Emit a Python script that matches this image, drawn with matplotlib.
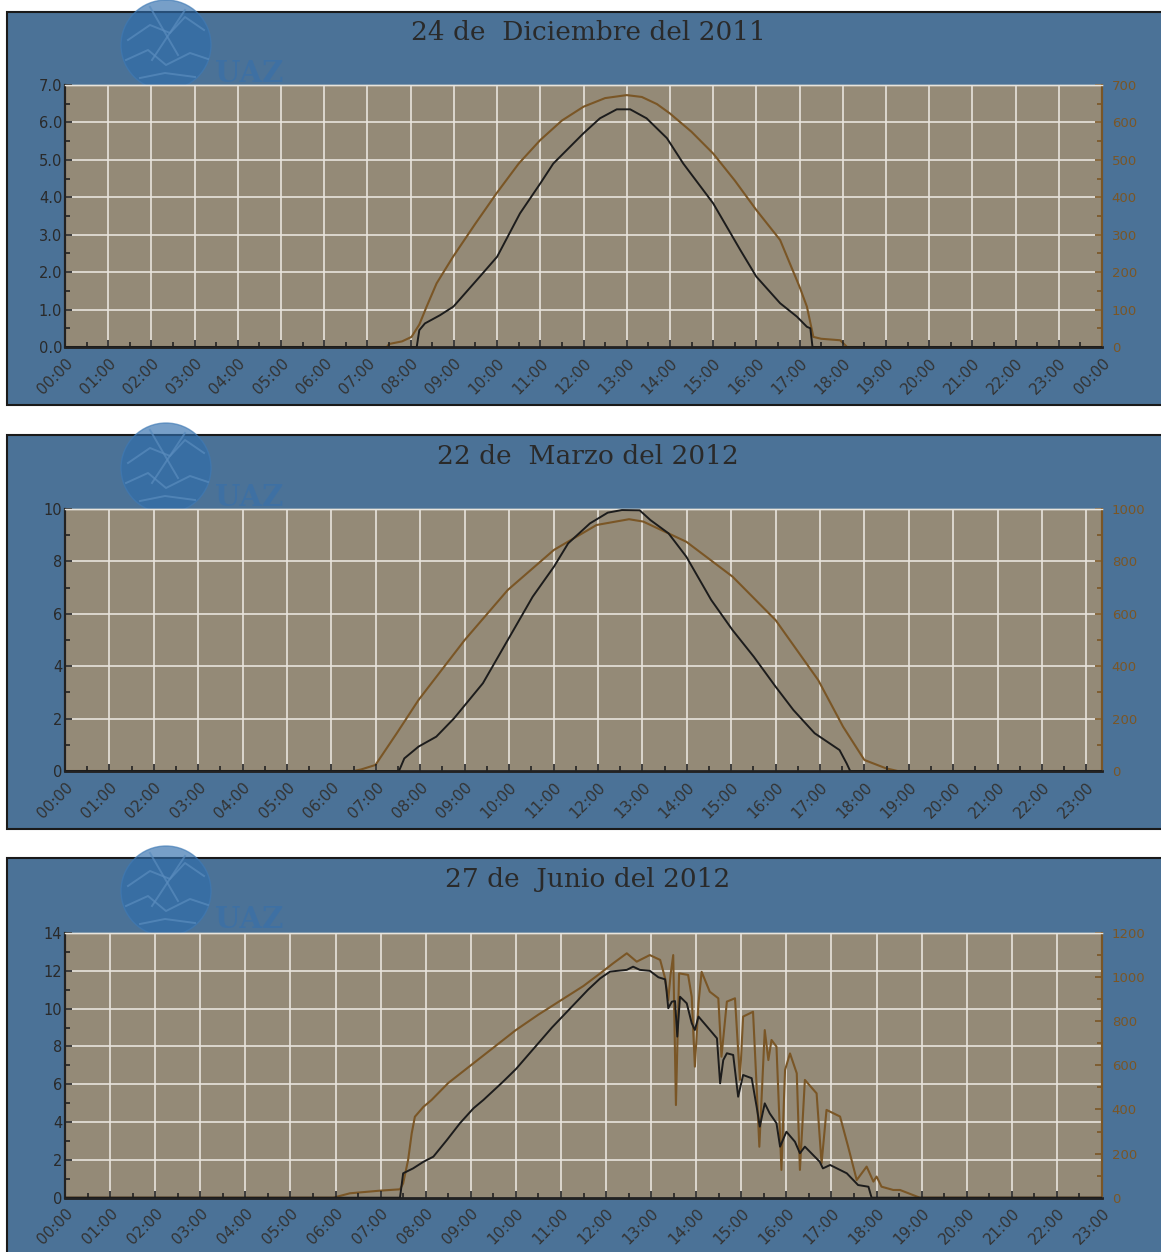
import matplotlib
matplotlib.use("Agg")
import matplotlib.pyplot as plt
from matplotlib.patches import Rectangle, Ellipse
from matplotlib.ticker import MultipleLocator

# ---------------- data ----------------
titles = ["24 de  Diciembre del 2011", "22 de  Marzo del 2012", "27 de  Junio del 2012"]

# Panel 1 : 24 Dic 2011
p1_black_h = [0, 8.14, 8.2, 8.33, 8.68, 8.99, 9.6, 10.0, 10.53, 11.0, 11.3, 12.0, 12.38, 12.77, 13.08,
              13.46, 13.93, 14.31, 15.0, 15.63, 16.0, 16.55, 16.94, 17.17, 17.25, 17.3, 24]
p1_black_v = [0, 0, 0.45, 0.63, 0.85, 1.08, 1.88, 2.41, 3.57, 4.37, 4.9, 5.71, 6.11, 6.35, 6.35,
              6.11, 5.58, 4.9, 3.84, 2.59, 1.88, 1.17, 0.81, 0.54, 0.5, 0, 0]
p1_brown_h = [0, 7.45, 7.5, 7.8, 8.02, 8.2, 8.37, 8.6, 8.98, 9.5, 9.99, 10.5, 11.0, 11.5, 12.0, 12.5,
              13.0, 13.35, 13.7, 14.0, 14.5, 15.0, 15.5, 16.0, 16.55, 17.0, 17.17, 17.32, 17.5, 17.94, 18.1, 24]
p1_brown_v = [0, 0, 8, 15, 27, 60, 108, 170, 241, 330, 411, 490, 553, 605, 642, 665,
              673, 668, 649, 624, 575, 517, 445, 366, 286, 161, 108, 27, 22, 18, 0, 0]

# Panel 2 : 22 Mar 2012
p2_black_h = [0, 7.52, 7.64, 7.96, 8.36, 8.76, 9.41, 9.97, 10.53, 11.01, 11.33, 11.82, 12.22, 12.54,
              12.94, 13.18, 13.59, 13.99, 14.55, 15.03, 15.51, 16.0, 16.4, 16.88, 17.44, 17.6, 17.68, 23.35]
p2_black_v = [0, 0, 0.48, 0.93, 1.31, 2.01, 3.35, 5.0, 6.65, 7.8, 8.69, 9.45, 9.86, 9.96,
              9.95, 9.58, 9.07, 8.18, 6.53, 5.38, 4.36, 3.22, 2.33, 1.44, 0.8, 0.29, 0, 0]
p2_brown_h = [0, 6.5, 6.67, 6.99, 7.47, 7.96, 9.0, 9.97, 11.01, 11.97, 12.7, 13.02, 13.99, 15.03,
              16.0, 16.96, 17.52, 18.0, 18.49, 18.75, 23.35]
p2_brown_v = [0, 0, 6, 23, 144, 271, 500, 691, 844, 939, 961, 952, 875, 742,
              576, 347, 169, 42, 10, 0, 0]

# Panel 3 : 27 Jun 2012
p3_black_h = [0, 7.43, 7.5, 7.72, 7.95, 8.17, 8.47, 8.76, 9.06, 9.28, 9.7, 10.0, 10.4, 10.8, 11.2,
              11.6, 11.87, 12.09, 12.46, 12.6, 12.75, 12.97, 13.16, 13.31, 13.34, 13.38, 13.46, 13.53,
              13.58, 13.64, 13.79, 13.9, 13.97, 14.05, 14.24, 14.46, 14.53, 14.6, 14.68, 14.82, 14.93,
              15.04, 15.23, 15.34, 15.41, 15.52, 15.63, 15.78, 15.86, 16.0, 16.19, 16.3, 16.41, 16.74,
              16.81, 16.97, 17.34, 17.59, 17.82, 17.89, 23]
p3_black_v = [0, 0, 1.29, 1.55, 1.9, 2.17, 3.05, 3.94, 4.73, 5.17, 6.1, 6.8, 7.9, 9.0, 10.0,
              11.0, 11.6, 11.96, 12.05, 12.22, 12.05, 12.0, 11.66, 11.55, 10.99, 10.02, 10.37, 10.4,
              8.52, 10.63, 10.28, 9.23, 8.87, 9.58, 9.05, 8.43, 6.05, 7.28, 7.64, 7.55, 5.34,
              6.49, 6.32, 4.81, 3.76, 4.99, 4.46, 3.94, 2.7, 3.49, 2.96, 2.35, 2.7, 1.9,
              1.55, 1.73, 1.29, 0.67, 0.58, 0, 0]
p3_brown_h = [0, 5.95, 6.32, 6.99, 7.43, 7.5, 7.61, 7.69, 7.76, 7.95, 8.13, 8.5, 9.0, 9.5, 10.0,
              10.5, 11.0, 11.5, 11.87, 12.16, 12.46, 12.68, 12.97, 13.2, 13.31, 13.38, 13.43, 13.49,
              13.55, 13.62, 13.82, 13.9, 13.97, 14.05, 14.12, 14.3, 14.49, 14.56, 14.68, 14.86, 14.97,
              15.04, 15.26, 15.34, 15.4, 15.52, 15.6, 15.67, 15.78, 15.89, 15.97, 16.08, 16.23, 16.3,
              16.41, 16.67, 16.78, 16.89, 17.19, 17.37, 17.56, 17.78, 17.93, 18.0, 18.11, 18.37, 18.52,
              18.96, 23]
p3_brown_v = [0, 0, 20, 32, 38, 65, 171, 292, 367, 412, 443, 520, 600, 680, 760,
              830, 895, 960, 1017, 1063, 1108, 1070, 1100, 1078, 995, 896, 1009, 1100,
              420, 1017, 1010, 911, 594, 881, 1024, 934, 904, 639, 889, 904, 534,
              821, 843, 503, 231, 760, 624, 715, 685, 126, 579, 654, 564, 126,
              534, 473, 156, 398, 368, 231, 80, 141, 73, 96, 50, 35, 35,
              0, 0]

hour_labels = ["%02d:00" % (h % 24) for h in range(25)]

left_ticks = [[0, 1, 2, 3, 4, 5, 6, 7], [0, 2, 4, 6, 8, 10], [0, 2, 4, 6, 8, 10, 12, 14]]
left_labels = [["0.0", "1.0", "2.0", "3.0", "4.0", "5.0", "6.0", "7.0"],
               ["0", "2", "4", "6", "8", "10"],
               ["0", "2", "4", "6", "8", "10", "12", "14"]]
right_ticks = [[0, 100, 200, 300, 400, 500, 600, 700],
               [0, 200, 400, 600, 800, 1000],
               [0, 200, 400, 600, 800, 1000, 1200]]

# ---------------- style ----------------
W, H = 1161, 1252
BLUE = "#4b7297"
PLOT_BG = "#948a77"
GRID = "#e8e4dc"
BROWN = "#7a5626"
BLACK = "#1c1c1c"
TXT = "#2a2a2a"

fig = plt.figure(figsize=(W / 100, H / 100), dpi=100)
fig.patch.set_facecolor("white")


def fx(px):
    return px / W


def fy(py):
    return 1 - py / H


panels = [
    dict(top=12, bot=405, ax_top=85, ax_bot=347, xmax=24, nlab=25, title_y=32,
         ymax=7, yminor=0.5, rmax=700, rminor=50,
         bh=p1_black_h, bv=p1_black_v, rh=p1_brown_h, rv=p1_brown_v),
    dict(top=435, bot=829, ax_top=509, ax_bot=771, xmax=23.35, nlab=24, title_y=456,
         ymax=10, yminor=1, rmax=1000, rminor=100,
         bh=p2_black_h, bv=p2_black_v, rh=p2_brown_h, rv=p2_brown_v),
    dict(top=858, bot=1290, ax_top=933, ax_bot=1197.7, xmax=23, nlab=24, title_y=880,
         ymax=14, yminor=1, rmax=1200, rminor=100,
         bh=p3_black_h, bv=p3_black_v, rh=p3_brown_h, rv=p3_brown_v),
]

for i, p in enumerate(panels):
    # panel background
    rect = Rectangle((fx(7), fy(p["bot"])), fx(1175) - fx(7), (p["bot"] - p["top"]) / H,
                     transform=fig.transFigure, facecolor=BLUE, edgecolor="#1a1a1a",
                     lw=1.5, zorder=-10)
    fig.add_artist(rect)

    # logo watermark
    cy = p["top"] + 33
    glob = Ellipse((fx(166), fy(cy)), 90 / W, 90 / H, transform=fig.transFigure,
                   facecolor="#2f6cab", edgecolor="#3f7ab5", lw=1.0, alpha=0.65, zorder=-5)
    fig.add_artist(glob)
    for pts in [[(128, cy - 5), (150, cy - 20), (170, cy - 12), (185, cy - 28), (204, cy - 15)],
                [(126, cy + 15), (148, cy + 5), (166, cy + 20), (190, cy + 8), (208, cy + 14)],
                [(140, cy + 33), (165, cy + 28), (195, cy + 32)],
                [(150, cy - 38), (178, cy + 10)], [(185, cy - 35), (152, cy + 15)]]:
        xs = [fx(a) for a, b in pts]
        ys = [fy(b) for a, b in pts]
        fig.add_artist(plt.Line2D(xs, ys, transform=fig.transFigure, color="#5a8cbe",
                                  lw=1.4, alpha=0.7, zorder=-4))
    fig.text(fx(249), fy(p["top"] + 62), "UAZ", ha="center", va="center", fontsize=21,
             fontweight="bold", family="DejaVu Serif", color="#3a70a8", alpha=0.75, zorder=-4)

    # title
    fig.text(fx(588), fy(p["title_y"]), titles[i], ha="center", va="center",
             fontsize=19, family="DejaVu Serif", color=TXT)

    ax = fig.add_axes([fx(65), fy(p["ax_bot"]), (1102 - 65) / W, (p["ax_bot"] - p["ax_top"]) / H])
    ax2 = ax.twinx()

    ax2.patch.set_visible(True)
    ax2.patch.set_facecolor(PLOT_BG)
    ax.patch.set_visible(False)
    ax.set_zorder(ax2.get_zorder() + 1)

    ax.set_xlim(0, p["xmax"])
    ax.set_ylim(0, p["ymax"])
    ax2.set_ylim(0, p["rmax"])

    xt = list(range(p["nlab"]))
    # grid drawn on the lower axes, under both curves
    for xv in xt:
        ax2.axvline(xv, color=GRID, lw=1.2, zorder=1)
    for yv in left_ticks[i]:
        ax2.axhline(yv * p["rmax"] / p["ymax"], color=GRID, lw=1.2, zorder=1)

    ax2.plot(p["rh"], p["rv"], color=BROWN, lw=1.5, zorder=3)
    ax.plot(p["bh"], p["bv"], color=BLACK, lw=1.4, zorder=3)

    ax.set_xticks(xt)
    ax.set_xticklabels(hour_labels[:p["nlab"]], rotation=45, ha="right", va="top",
                       rotation_mode="anchor", fontsize=11, color="#333333")
    ax.xaxis.set_minor_locator(MultipleLocator(0.5))
    ax.set_yticks(left_ticks[i])
    ax.set_yticklabels(left_labels[i], fontsize=10.5, color=TXT)
    ax.yaxis.set_minor_locator(MultipleLocator(p["yminor"]))
    ax2.set_yticks(right_ticks[i])
    ax2.set_yticklabels([str(v) for v in right_ticks[i]], fontsize=9.5, color=BROWN)
    ax2.yaxis.set_minor_locator(MultipleLocator(p["rminor"]))

    ax.tick_params(axis="x", which="major", direction="in", length=5, width=1.2, color="#222222", pad=6)
    ax.tick_params(axis="x", which="minor", direction="in", length=3.5, width=1.2, color="#222222")
    ax.tick_params(axis="y", which="major", direction="in", length=5, width=1.2, color="#222222", pad=2)
    ax.tick_params(axis="y", which="minor", direction="in", length=3.5, width=1.2, color="#222222")
    ax2.tick_params(axis="y", which="major", direction="in", length=5, width=1.2, color=BROWN, pad=7)
    ax2.tick_params(axis="y", which="minor", direction="in", length=3.5, width=1.2, color=BROWN)

    for a in (ax, ax2):
        a.spines["top"].set_color(GRID)
        a.spines["top"].set_linewidth(1.0)
        a.spines["left"].set_color("#222222")
        a.spines["left"].set_linewidth(1.5)
        a.spines["bottom"].set_color("#222222")
        a.spines["bottom"].set_linewidth(1.8)
        a.spines["right"].set_color(BROWN)
        a.spines["right"].set_linewidth(1.5)

fig.savefig("out.png", dpi=100, facecolor=fig.get_facecolor())
